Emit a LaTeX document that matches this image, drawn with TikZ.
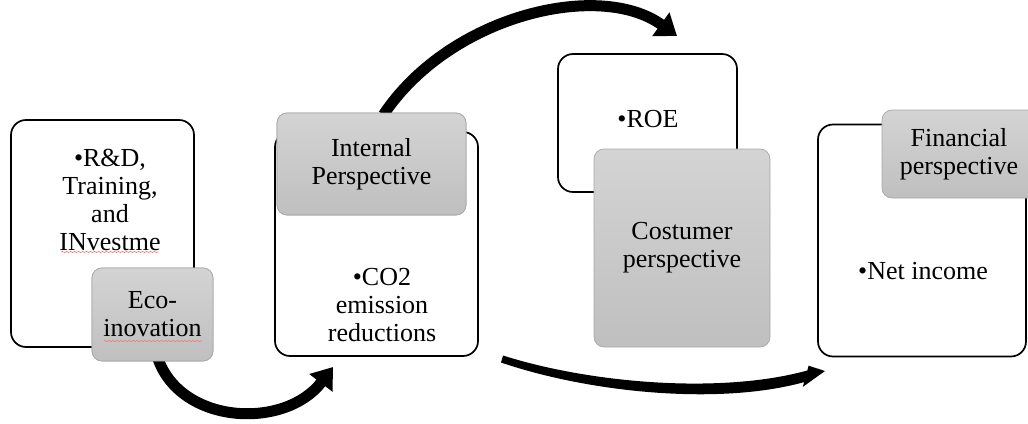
\documentclass[tikz,border=0pt]{standalone}
\usepackage{fontspec}
\setmainfont{Liberation Serif}
\usetikzlibrary{arrows.meta,calc,decorations.pathmorphing}

\tikzset{
  txt/.style={font=\fontsize{26}{28}\selectfont, align=center, inner sep=0pt},
  card/.style={draw=black, line width=1.7pt, fill=white, rounded corners=15pt,
    inner sep=0pt},
  label box/.style={draw=black!34, line width=0.7pt, rounded corners=10pt,
    top color=black!17, bottom color=black!25, inner sep=0pt,
    font=\fontsize{26}{28}\selectfont, align=center},
  flow/.style={line width=11pt, -{Triangle[length=20pt,width=28pt]}},
  spell/.style={draw=red!55, line width=0.6pt,
    decorate, decoration={snake, amplitude=0.6pt, segment length=4pt}}
}

\begin{document}
\begin{tikzpicture}[x=1pt,y=-1pt]
\clip (0,0) rectangle (1028,423);

% white content cards
\node[card, minimum width=183pt, minimum height=227pt] (c1) at (102.5,233.5) {};
\node[card, minimum width=203pt, minimum height=224pt] (c2) at (376.5,244) {};
\node[card, minimum width=179pt, minimum height=138pt] (c3) at (647.5,123) {};
\node[card, minimum width=208pt, minimum height=232pt] (c4) at (922,240.5) {};

% bullet texts
\node[txt] (t1) at (110,200) {•R\&D,\\Training,\\and\\INvestme};
\node[txt] (t2) at (382,305) {•CO2\\emission\\reductions};
\node[txt] (t3) at (648,119) {•ROE};
\node[txt] (t4) at (923,271) {•Net income};

% connector end points
\coordinate (a1end) at (333,367);
\coordinate (a3start) at (502,359);
\coordinate (a3end) at (825,371);
\coordinate (a2end) at (677,36);

% grey heading boxes
\node[label box, minimum width=121pt, minimum height=93pt] (eco) at (152.5,314.5) {Eco-\\inovation};
\node[label box, minimum width=189pt, minimum height=102pt] (int) at (371.5,164) {Internal\\Perspective};
\node[label box, minimum width=176pt, minimum height=198pt] (cus) at (682,248) {Costumer\\perspective};
\node[label box, minimum width=160pt, minimum height=88pt] (fin) at (962,154) {};
\node[txt] (fint) at (959,154) {Financial\\perspective};

% curved arrows
\draw[flow] ($(eco.south)+(5,-4)$) .. controls (180,425) and (285,430) .. (a1end);
\draw[flow] ($(int.north)+(12,2)$) .. controls (450,15) and (600,-20) .. (a2end);
% tapered arrow along the bottom
\fill ($(a3start)+(1,-3.5)$) .. controls (591,383.5) and (721.5,394.2) .. ($(a3end)+(-17.7,-0.5)$)
  -- ($(a3end)+(-16.4,-5.3)$) -- (a3end) -- ($(a3end)+(-22.2,15.9)$)
  -- ($(a3end)+(-20.9,11.1)$) .. controls (718.5,405.8) and (589,392.5) .. ($(a3start)+(-1,3.5)$)
  -- cycle;

% grey boxes again, above the arrow ends
\node[label box, minimum width=121pt, minimum height=93pt] at (eco) {Eco-\\inovation};
\node[label box, minimum width=189pt, minimum height=102pt] at (int) {Internal\\Perspective};

% spell-check marks
\draw[spell] ($(t1.south west)+(2,1)$) -- ($(t1.south east)+(-2,1)$);
\draw[spell] (104,341) -- (202,341);
\end{tikzpicture}
\end{document}
